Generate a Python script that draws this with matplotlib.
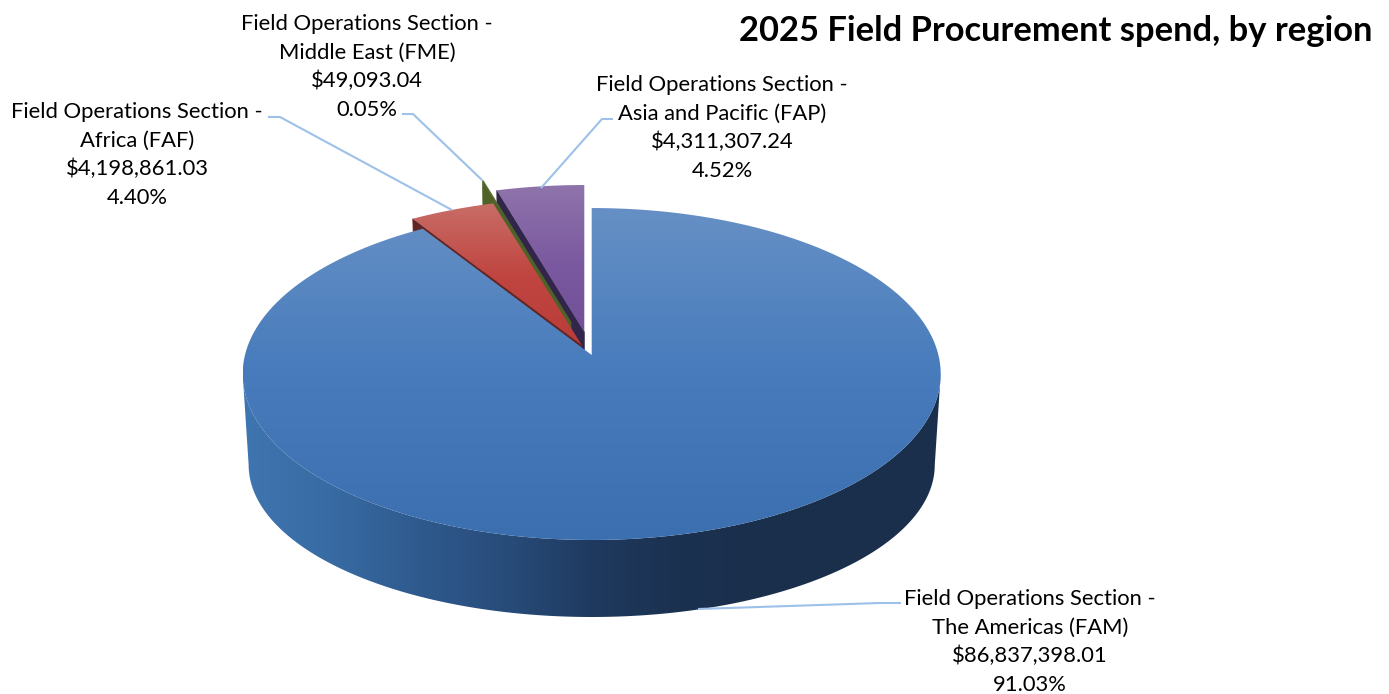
import numpy as np
import matplotlib
matplotlib.use("Agg")
import matplotlib.pyplot as plt
from matplotlib.patches import Polygon
from matplotlib.colors import LinearSegmentedColormap

categories = ["Field Operations Section -\nThe Americas (FAM)",
              "Field Operations Section -\nAfrica (FAF)",
              "Field Operations Section -\nMiddle East (FME)",
              "Field Operations Section -\nAsia and Pacific (FAP)"]
values = [86837398.01, 4198861.03, 49093.04, 4311307.24]
title = "2025 Field Procurement spend, by region"

top_colors = [["#6690c5", "#477bbc", "#3b6fb0"],
              ["#c9706a", "#c0443f", "#b83d39"],
              ["#5a7030", "#4f6228", "#4f6228"],
              ["#8f74ab", "#7b59a0", "#6f4f96"]]
cut_colors = ["#1a2f4b", "#632523", "#4f6228", "#31254a"]
apexes = [(591.7, 355.0), (581.7, 345.0), (571.0, 322.0), (584.3, 332.0)]
label_pos = [(1030, 642), (137, 155), (367, 67), (722, 128)]
leaders = [[(901, 603), (880, 603), (698, 609)],
           [(268, 117), (280, 117), (452, 210)],
           [(402, 114), (413, 114), (482, 180)],
           [(613, 119), (602, 119), (541, 188)]]

K = 0.1145
TOP_A, TOP_B = 346.7, 163.8
BOT_A, BOT_B = 340.8, 150.0
DROP = 92.6

plt.rcParams["font.family"] = ["Lato", "DejaVu Sans"]
fig = plt.figure(figsize=(13.89, 6.94), dpi=100)
ax = fig.add_axes([0, 0, 1, 1])
ax.set_axis_off()


def rim(apex, a0, a1, A, B, dy=0.0, n=240):
    t = np.radians(np.linspace(a0, a1, n))
    u, v = np.sin(t), np.cos(t)
    w = 1 + K * v
    return np.column_stack([apex[0] + A * u / w, apex[1] + dy - B * v / w])


def gradient(path_xy, colors, vertical=True, extent=None, z=1):
    pts = np.asarray(path_xy)
    x0, x1 = pts[:, 0].min(), pts[:, 0].max()
    y0, y1 = pts[:, 1].min(), pts[:, 1].max()
    if extent is not None:
        if vertical:
            y0, y1 = extent
        else:
            x0, x1 = extent
    cmap = LinearSegmentedColormap.from_list("g", colors)
    g = np.linspace(0, 1, 256)
    data = g[:, None] if vertical else g[None, :]
    im = ax.imshow(data, cmap=cmap, vmin=0, vmax=1, aspect="auto", origin="upper",
                   extent=(x0, x1, y1, y0), zorder=z, interpolation="bilinear")
    clip = Polygon(pts, closed=True, transform=ax.transData, fc="none", ec="none")
    ax.add_patch(clip)
    im.set_clip_path(clip)


total = sum(values)
fractions = [v / total for v in values]
starts = np.concatenate([[0], np.cumsum(fractions)[:-1]]) * 360
ends = starts + np.array(fractions) * 360

# exploded slices, back to front: FAP, FME, FAF
z = 2
for i in [3, 2, 1]:
    ap = apexes[i]
    a0, a1 = starts[i], ends[i]
    outer_t = rim(ap, a0, a0, TOP_A, TOP_B, n=1)
    outer_b = rim(ap, a0, a0, BOT_A, BOT_B, DROP, n=1)
    cut = np.vstack([outer_t, [ap], [(ap[0], ap[1] + DROP)], outer_b])
    ax.add_patch(Polygon(cut, closed=True, fc=cut_colors[i], ec=cut_colors[i], lw=0.5, zorder=z))
    z += 1
    face = np.vstack([[ap], rim(ap, a0, a1, TOP_A, TOP_B)])
    gradient(face, top_colors[i], True, (ap[1] - 147, ap[1] + 10), z=z)
    z += 1

# main slice: near side wall between the two silhouette points, then top
ap = apexes[0]
side = np.degrees(np.arccos(-K))
low_top = rim(ap, side, 360 - side, TOP_A, TOP_B)
low_bot = rim(ap, side, 360 - side, BOT_A, BOT_B, DROP)
wall = np.vstack([low_top, low_bot[::-1]])
gradient(wall, ["#3f75b0", "#386ba3", "#2f5a8e", "#284c7a", "#1f3a5f", "#1b3150", "#1a2f4b", "#1a2f4b", "#1a2f4b"],
         False, z=z)
z += 1
face = np.vstack([[ap], rim(ap, starts[0], ends[0], TOP_A, TOP_B, n=720)])
gradient(face, top_colors[0], True, (208, 540), z=z)
z += 1

# labels and leaders
for i, cat in enumerate(categories):
    txt = f"{cat}\n${values[i]:,.2f}\n{fractions[i]*100:.2f}%"
    ax.text(*label_pos[i], txt, ha="center", va="center", fontsize=15.8, color="#000000",
            linespacing=1.52, zorder=z + 1)
    L = np.array(leaders[i])
    ax.plot(L[:, 0], L[:, 1], color="#9dc1e8", lw=1.5, zorder=z, solid_capstyle="butt")

ax.text(1372, 30.5, title, ha="right", va="center", fontsize=24.8, fontweight="bold", color="#000000")

ax.set_xlim(0, 1389)
ax.set_ylim(694, 0)
fig.savefig("out.png", dpi=100, facecolor="white")
